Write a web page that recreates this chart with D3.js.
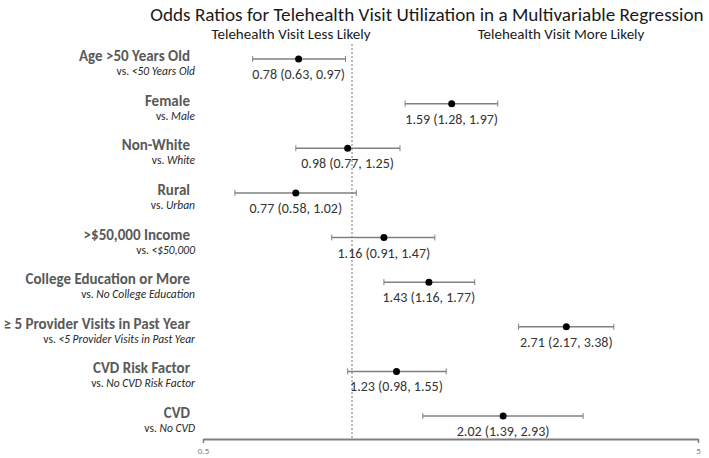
<!DOCTYPE html>
<html>
<head>
<meta charset="utf-8">
<script src="https://cdn.jsdelivr.net/npm/d3@7"></script>
<style>
  html, body { margin: 0; padding: 0; background: #fff; }
  svg { display: block; }
  text { font-family: Carlito, "Liberation Sans Narrow", Lato, "Open Sans", sans-serif; }
</style>
</head>
<body>
<svg id="chart" width="709" height="458"></svg>
<script>
// ---- Data ----
const labels = ["Age >50 Years Old", "Female", "Non-White", "Rural", ">$50,000 Income",
  "College Education or More", "\u2265 5 Provider Visits in Past Year", "CVD Risk Factor", "CVD"];
const refLabels = ["<50 Years Old", "Male", "White", "Urban", "<$50,000",
  "No College Education", "<5 Provider Visits in Past Year", "No CVD Risk Factor", "No CVD"];
const oddsRatios = [0.78, 1.59, 0.98, 0.77, 1.16, 1.43, 2.71, 1.23, 2.02];
const lowerCI = [0.63, 1.28, 0.77, 0.58, 0.91, 1.16, 2.17, 0.98, 1.39];
const upperCI = [0.97, 1.97, 1.25, 1.02, 1.47, 1.77, 3.38, 1.55, 2.93];
const axisTicks = [0.5, 5];
const title = "Odds Ratios for Telehealth Visit Utilization in a Multivariable Regression";
const leftHeader = "Telehealth Visit Less Likely";
const rightHeader = "Telehealth Visit More Likely";

// ---- Layout ----
const svg = d3.select("#chart");
const x = d3.scaleLog().domain([0.5, 5]).range([203, 698]);
const y = d3.scalePoint().domain(d3.range(labels.length)).range([59, 416]);

const fmt = d3.format(".2f");

function fitSize(sel, size, width) {
  sel.attr("font-size", size);
  const w = sel.node().getComputedTextLength();
  if (w > width) sel.attr("font-size", size * width / w);
  return sel;
}

// Title
fitSize(svg.append("text").attr("x", 427).attr("y", 21).attr("text-anchor", "middle")
  .attr("fill", "#1a1a1a").text(title), 20, 554);

// Headers
svg.append("text").attr("x", 291).attr("y", 39).attr("text-anchor", "middle")
  .attr("font-size", 15).attr("fill", "#1a1a1a").text(leftHeader);
svg.append("text").attr("x", 561).attr("y", 39).attr("text-anchor", "middle")
  .attr("font-size", 15).attr("fill", "#1a1a1a").text(rightHeader);

// Reference line at OR = 1
svg.append("line").attr("x1", x(1)).attr("x2", x(1)).attr("y1", 44).attr("y2", 439)
  .attr("stroke", "#777").attr("stroke-width", 1).attr("stroke-dasharray", "2,2");

// Axis
const axis = d3.axisBottom(x).tickValues(axisTicks).tickFormat(d3.format("")).tickSize(4).tickSizeOuter(0);
const gAxis = svg.append("g").attr("transform", "translate(0,439)").call(axis);
gAxis.select(".domain").attr("stroke", "#7f7f7f").attr("stroke-width", 2);
gAxis.selectAll(".tick line").attr("stroke", "#7f7f7f").attr("stroke-width", 1.5);
gAxis.selectAll(".tick text").attr("fill", "#7f7f7f").attr("font-size", 9)
  .attr("font-family", "Carlito, 'Liberation Sans Narrow', Lato, sans-serif").attr("dy", "0.9em");

// Rows
const rows = svg.append("g").selectAll("g").data(labels.map((d, i) => i)).join("g")
  .attr("transform", i => `translate(0,${y(i)})`);

rows.append("line").attr("x1", i => x(lowerCI[i])).attr("x2", i => x(upperCI[i]))
  .attr("stroke", "#808080").attr("stroke-width", 1.5);
rows.append("line").attr("x1", i => x(lowerCI[i])).attr("x2", i => x(lowerCI[i]))
  .attr("y1", -3).attr("y2", 3).attr("stroke", "#808080").attr("stroke-width", 1);
rows.append("line").attr("x1", i => x(upperCI[i])).attr("x2", i => x(upperCI[i]))
  .attr("y1", -3).attr("y2", 3).attr("stroke", "#808080").attr("stroke-width", 1);
rows.append("circle").attr("cx", i => x(oddsRatios[i])).attr("cy", 0).attr("r", 3.5).attr("fill", "#000");

rows.append("text").attr("x", i => x(oddsRatios[i])).attr("y", 20).attr("text-anchor", "middle")
  .attr("font-size", 14).attr("fill", "#333")
  .text(i => `${fmt(oddsRatios[i])} (${fmt(lowerCI[i])}, ${fmt(upperCI[i])})`);

rows.append("text").attr("x", 190).attr("y", 2).attr("text-anchor", "end")
  .attr("font-size", 15).attr("font-weight", "bold").attr("fill", "#595959")
  .text(i => labels[i]);

const sub = rows.append("text").attr("x", 195).attr("y", 16).attr("text-anchor", "end")
  .attr("font-size", 11.5).attr("fill", "#262626");
sub.append("tspan").text("vs. ");
sub.append("tspan").attr("font-style", "italic").text(i => refLabels[i]);
</script>
</body>
</html>
